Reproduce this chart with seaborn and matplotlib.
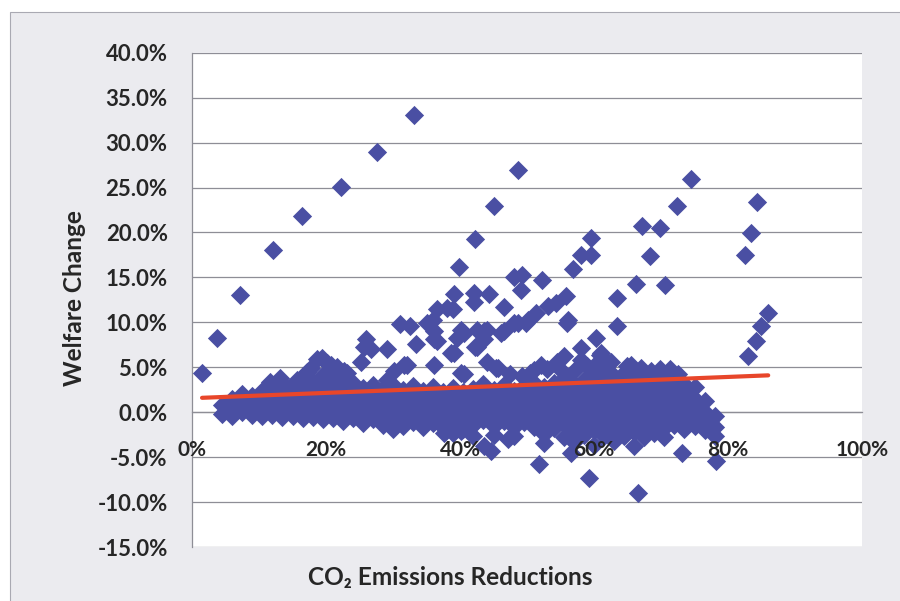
import matplotlib
matplotlib.use("Agg")
import matplotlib.pyplot as plt
from matplotlib.patches import Rectangle
from matplotlib.ticker import FuncFormatter, FixedLocator
import numpy as np
import pandas as pd
import seaborn as sns

# ---- data (percent units) -------------------------------------------------
# dense core of the cloud: one x position per column, the y values stacked on it
core_cols = [4.5, 6, 7.5, 9, 10.5, 12, 13.5, 15, 16.5, 18, 19.5, 21, 22.5, 24,
             25.5, 27, 28.5, 30, 31.5, 33, 34.5, 36, 37.5, 39, 40.5, 42, 43.5,
             45, 46.5, 48, 49.5, 51, 52.5, 54, 55.5, 57, 58.5, 60, 61.5, 63,
             64.5, 66, 67.5, 69, 70.5, 72, 73.5, 75, 76.5, 78]
core_vals = [
    [-0.2, 0.8],
    [0.3, 1.5, -0.4],
    [0.0, 1.0, 2.0],
    [-0.3, 0.7, 1.8],
    [0.2, 1.2, 2.4, -0.4],
    [-0.3, 0.6, 1.6, 2.8],
    [0.1, 1.1, 2.2, 3.3, -0.5],
    [-0.4, 0.5, 1.5, 2.6],
    [0.0, 1.0, 2.0, 3.0, 4.0, -0.6],
    [-0.5, 0.4, 1.4, 2.4, 3.4],
    [0.0, 0.9, 1.9, 2.9, 4.1, -0.8],
    [-0.6, 0.4, 1.4, 2.4, 3.5],
    [-0.2, 0.8, 1.8, 2.8, 3.9, -1.0],
    [-0.7, 0.3, 1.3, 2.3, 3.2],
    [-0.3, 0.7, 1.7, 2.7, -1.2],
    [-0.8, 0.2, 1.2, 2.2, 3.0],
    [-0.4, 0.6, 1.6, 2.6, -1.4],
    [-1.0, 0.0, 1.0, 2.0, 3.0, -1.9],
    [-0.5, 0.5, 1.5, 2.5, -1.5],
    [-1.1, -0.1, 0.9, 1.9, 2.9],
    [-0.6, 0.4, 1.4, 2.4, -1.6],
    [-1.2, -0.2, 0.8, 1.8, 2.8],
    [-0.7, 0.3, 1.3, 2.3, -1.7],
    [-1.3, -0.3, 0.7, 1.7, 2.7, -2.3],
    [-0.8, 0.2, 1.2, 2.2, -1.9],
    [-1.4, -0.4, 0.6, 1.6, 2.6, -2.6],
    [-0.9, 0.1, 1.1, 2.1, 3.1],
    [-1.5, -0.5, 0.5, 1.5, 2.5, -2.5],
    [-1.0, 0.0, 1.0, 2.0, 3.0],
    [-1.6, -0.6, 0.4, 1.4, 2.4, -2.7],
    [-1.1, -0.1, 0.9, 1.9, 2.9],
    [-1.7, -0.7, 0.3, 1.3, 2.3, 3.3],
    [-2.4, -1.2, -0.2, 0.8, 1.8, 2.8, -3.4],
    [-1.8, -0.8, 0.2, 1.2, 2.2, 3.2],
    [-2.8, -1.3, -0.3, 0.7, 1.7, 2.7, 3.8],
    [-1.9, -0.9, 0.1, 1.1, 2.1, 3.1, -3.3],
    [-2.5, -1.4, -0.4, 0.6, 1.6, 2.6, 3.6],
    [-2.0, -1.0, 0.0, 1.0, 2.0, 3.0, 4.2, -3.6],
    [-2.6, -1.5, -0.5, 0.5, 1.5, 2.5, 3.5],
    [-2.1, -1.1, -0.1, 0.9, 1.9, 2.9, 4.0, -3.2],
    [-2.7, -1.6, -0.6, 0.4, 1.4, 2.4, 3.4, 4.4],
    [-2.2, -1.2, -0.2, 0.8, 1.8, 2.8, 3.8, -3.8],
    [-2.8, -1.7, -0.7, 0.3, 1.3, 2.3, 3.3, 4.3],
    [-2.3, -1.3, -0.3, 0.7, 1.7, 2.7, 3.7],
    [-1.8, -0.8, 0.2, 1.2, 2.2, 3.2, 4.2, -2.8],
    [-1.4, -0.4, 0.6, 1.6, 2.6, 3.6],
    [-1.9, -0.9, 0.1, 1.1, 2.1, 3.1],
    [-1.5, -0.5, 0.5, 1.5, 2.8],
    [-2.0, -1.0, 0.0, 1.2],
    [-2.7, -1.6, -0.4],
]

# points above the core: rising arms and scattered gains
upper_x = [11.7, 13.2, 15.7, 17.2, 17.7, 18.7, 19.4, 20.2, 20.7, 21.7, 22.7, 23.2,
           25.2, 25.7, 26.0, 26.7, 29.1, 29.1, 30.1, 31.1, 31.6, 32.1, 32.6, 33.4,
           35.1, 35.9, 36.1, 36.1, 36.1, 36.6, 36.6, 38.1, 38.6, 38.9, 39.1, 39.1,
           39.6, 40.1, 40.1, 40.6, 40.6, 42.1, 42.1, 42.3, 42.6, 42.6, 43.6, 43.6,
           44.1, 44.3, 45.3, 45.6, 46.1, 46.6, 46.6, 48.1, 48.1, 48.6, 49.1, 49.3,
           49.3, 49.8, 50.1, 51.1, 51.3, 52.1, 52.2, 53.1, 54.3, 55.0, 55.5, 55.8,
           56.0, 56.1, 56.9, 58.0, 58.0, 59.0, 59.5, 59.6, 60.3, 60.5, 60.9, 61.0,
           63.4, 63.5, 64.9, 66.3, 66.4, 67.2, 68.3, 69.9, 69.9, 70.6, 71.4, 72.4,
           74.5, 82.5, 83.0, 83.5, 84.2, 84.4, 84.9, 85.9,
           44.0, 47.5, 50.5, 53.0, 54.5, 57.0, 58.0, 61.5, 62.5, 65.5, 67.0, 68.5,
           72.5]
upper_y = [3.4, 3.8, 3.6, 4.5, 4.9, 5.9, 6.0, 5.5, 5.3, 5.0, 4.6, 4.4,
           5.6, 7.3, 8.1, 7.0, 7.0, 3.6, 4.6, 9.8, 5.3, 5.3, 9.6, 7.6,
           9.9, 10.3, 9.0, 8.1, 5.2, 7.9, 11.5, 11.6, 6.6, 11.5, 13.1, 6.6,
           8.3, 9.2, 4.4, 4.2, 8.8, 12.3, 13.3, 7.2, 9.2, 7.3, 8.1, 9.0,
           9.2, 13.2, 4.9, 4.9, 8.8, 11.7, 9.0, 9.9, 15.0, 9.9, 13.6, 15.3,
           4.0, 9.9, 10.3, 4.7, 11.0, 5.3, 14.7, 11.8, 12.2, 4.7, 6.2, 12.9,
           9.9, 10.3, 15.9, 17.5, 7.1, 5.1, 19.4, 17.5, 8.3, 5.5, 6.4, 6.6,
           9.6, 12.7, 5.1, 14.3, 4.5, 20.7, 17.4, 20.5, 4.8, 14.1, 4.8, 22.9,
           25.9, 17.5, 6.2, 19.9, 7.9, 23.4, 9.6, 11.0,
           5.6, 4.2, 4.4, 4.8, 5.6, 4.6, 5.8, 4.8, 5.6, 5.3, 4.9, 4.6,
           4.3]

# isolated high outliers
high_x = [1.5, 3.7, 7.2, 12.1, 16.4, 22.2, 27.6, 33.2, 39.8, 42.3, 45.1, 48.6]
high_y = [4.4, 8.3, 13.0, 18.1, 21.8, 25.1, 29.0, 33.1, 16.1, 19.3, 22.9, 27.0]

# losses below the core
low_x = [37.6, 40.1, 43.6, 44.6, 47.1, 51.8, 56.5, 59.3, 66.5, 73.2, 78.2]
low_y = [-2.3, -2.1, -3.8, -4.3, -3.0, -5.8, -4.5, -7.3, -9.0, -4.5, -5.4]

# linear trend line end points
trend_x = [1.5, 86.0]
trend_y = [1.6, 4.1]

x_ticks = [0, 20, 40, 60, 80, 100]
y_ticks = [-15, -10, -5, 0, 5, 10, 15, 20, 25, 30, 35, 40]

# ---- assemble -------------------------------------------------------------
core_x = [c for c, vals in zip(core_cols, core_vals) for _ in vals]
core_y = [v for vals in core_vals for v in vals]
df = pd.DataFrame({
    "reduction": core_x + upper_x + high_x + low_x,
    "welfare": core_y + upper_y + high_y + low_y,
})

sns.set_theme(style="white")
plt.rcParams["font.family"] = ["Lato", "DejaVu Sans"]
plt.rcParams["font.weight"] = "bold"

W, H = 900, 601
fig = plt.figure(figsize=(W / 100, H / 100), dpi=100, facecolor="white")

# grey chart frame
fig.patches.append(Rectangle((10 / W, -0.01), 1.0, 1 - 12 / H + 0.01,
                             transform=fig.transFigure, facecolor="#ebebef",
                             edgecolor="#a9a9b2", linewidth=0.8, zorder=0))

ax = fig.add_axes([192 / W, 1 - 547 / H, (862 - 192) / W, (547 - 52.7) / H])
ax.set_zorder(1)
ax.set_facecolor("white")

grid_color = "#8e8e96"
for yv in y_ticks:
    ax.axhline(yv, color=grid_color, linewidth=0.9, zorder=0.5)

sns.scatterplot(data=df, x="reduction", y="welfare", marker="D", s=96,
                color="#4a4fa3", linewidth=0, ax=ax, zorder=2)
sns.lineplot(x=trend_x, y=trend_y, color="#e8462a", linewidth=3.0, ax=ax,
             zorder=3)

ax.set_xlim(0, 100)
ax.set_ylim(-15, 40)
ax.xaxis.set_major_locator(FixedLocator(x_ticks))
ax.yaxis.set_major_locator(FixedLocator(y_ticks))
ax.xaxis.set_major_formatter(FuncFormatter(lambda v, p: f"{v:.0f}%"))
ax.yaxis.set_major_formatter(FuncFormatter(lambda v, p: f"{v:.1f}%".replace("\u2212", "-")))

for side in ("top", "right"):
    ax.spines[side].set_visible(False)
ax.spines["left"].set_color(grid_color)
ax.spines["left"].set_linewidth(0.9)
ax.spines["bottom"].set_position(("data", 0))
ax.spines["bottom"].set_color(grid_color)
ax.spines["bottom"].set_linewidth(0.9)
ax.spines["bottom"].set_zorder(0.6)
ax.spines["left"].set_zorder(0.6)

ax.tick_params(axis="y", direction="out", length=6.5, width=0.9,
               color=grid_color, pad=11, labelsize=16, labelcolor="#262626")
ax.tick_params(axis="x", direction="out", length=5, width=0.9,
               color=grid_color, pad=15, labelsize=15, labelcolor="#262626")
for lab in ax.get_xticklabels() + ax.get_yticklabels():
    lab.set_fontweight("bold")
ax.xaxis.set_zorder(4)
ax.set_xlabel("")
ax.set_ylabel("")

fig.text(75 / W, 1 - 298 / H, "Welfare Change", rotation=90, ha="center",
         va="center", fontsize=17.6, fontweight="bold", color="#262626")
fig.text(450 / W, 1 - 577 / H, "CO\u2082 Emissions Reductions", ha="center",
         va="center", fontsize=17.6, fontweight="bold", color="#262626")

fig.savefig("out.png", dpi=100, facecolor=fig.get_facecolor())
